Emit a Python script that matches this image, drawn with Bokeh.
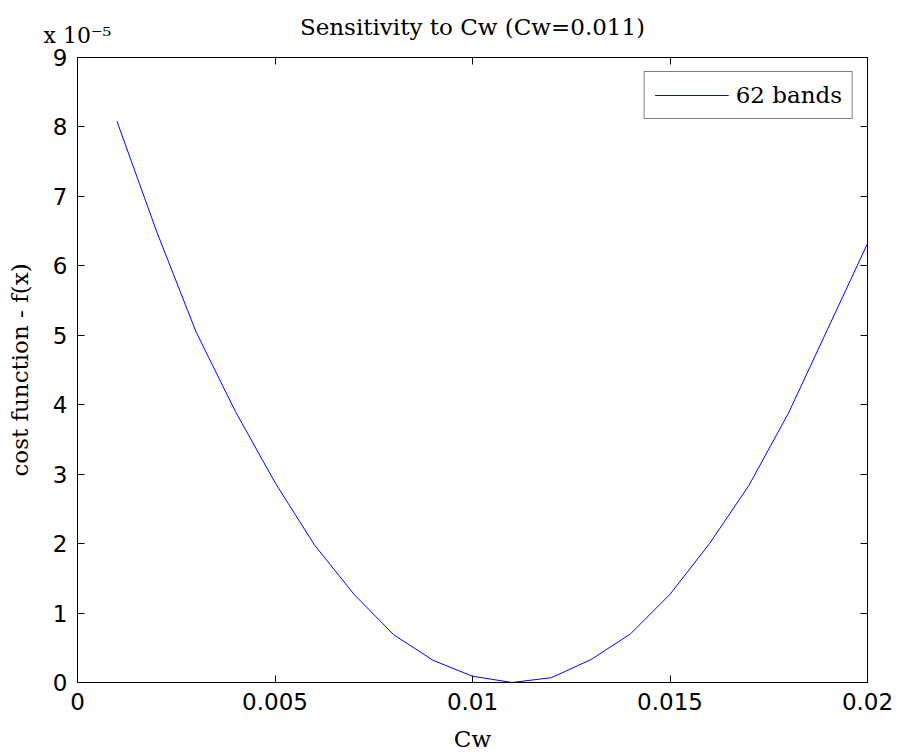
from bokeh.plotting import figure
from bokeh.models import LinearAxis, Legend, LegendItem, FixedTicker
from bokeh.embed import file_html
from bokeh.resources import INLINE

# Data (cost function in units of 1e-5)
cw = [0.001, 0.002, 0.003, 0.004, 0.005, 0.006, 0.007, 0.008, 0.009, 0.010,
      0.011, 0.012, 0.013, 0.014, 0.015, 0.016, 0.017, 0.018, 0.019, 0.020]
cost_e5 = [8.08, 6.50, 5.05, 3.90, 2.88, 1.98, 1.27, 0.69, 0.32, 0.09,
           0.00, 0.07, 0.33, 0.70, 1.27, 2.00, 2.84, 3.88, 5.10, 6.32]
x_ticks = [0, 0.005, 0.01, 0.015, 0.02]
x_tick_labels = ["0", "0.005", "0.01", "0.015", "0.02"]
y_ticks = [0, 1, 2, 3, 4, 5, 6, 7, 8, 9]
y_multiplier = "x 10\u207b\u2075"
title_text = "Sensitivity to Cw (Cw=0.011)"
series_name = "62 bands"

SERIF = "DejaVu Serif"
SANS = "DejaVu Sans"

p = figure(width=897, height=754, x_range=(0, 0.02), y_range=(0, 9),
           output_backend="svg", toolbar_location=None,
           min_border_left=77, min_border_right=30, min_border_top=57, min_border_bottom=72,
           x_axis_type=None, y_axis_type=None)
p.xgrid.visible = False
p.ygrid.visible = False
p.outline_line_color = "black"
p.outline_line_width = 1
p.background_fill_color = "white"
p.border_fill_color = "white"

def style_axis(ax):
    ax.axis_line_color = "black"
    ax.axis_line_width = 1
    ax.major_tick_line_color = "black"
    ax.major_tick_in = 7
    ax.major_tick_out = 0
    ax.minor_tick_line_color = None
    ax.major_label_text_font = SANS
    ax.major_label_text_font_size = "23px"
    ax.major_label_text_color = "black"

xb = LinearAxis(ticker=FixedTicker(ticks=x_ticks))
xb.major_label_overrides = {t: l for t, l in zip(x_ticks, x_tick_labels)}
style_axis(xb)
xb.major_label_standoff = 10
xb.axis_label = "Cw"
xb.axis_label_text_font = SERIF
xb.axis_label_text_font_size = "23px"
xb.axis_label_text_font_style = "normal"
xb.axis_label_text_color = "black"
xb.axis_label_standoff = 13
p.add_layout(xb, "below")

yl = LinearAxis(ticker=FixedTicker(ticks=y_ticks))
style_axis(yl)
yl.major_label_standoff = 10
yl.axis_label = "cost function - f(x)"
yl.axis_label_text_font = SERIF
yl.axis_label_text_font_size = "23px"
yl.axis_label_text_font_style = "normal"
yl.axis_label_text_color = "black"
yl.axis_label_standoff = 17
p.add_layout(yl, "left")

# top axis: inward ticks, the y-scale multiplier at x=0, and the chart title
xt = LinearAxis(ticker=FixedTicker(ticks=x_ticks))
style_axis(xt)
xt.major_label_overrides = {t: (y_multiplier if t == 0 else "") for t in x_ticks}
xt.major_label_text_font = SERIF
xt.major_label_text_font_size = "22px"
xt.major_label_text_align = "left"
xt.major_label_standoff = 10
xt.axis_label = title_text
xt.axis_label_text_font = SERIF
xt.axis_label_text_font_size = "23px"
xt.axis_label_text_font_style = "normal"
xt.axis_label_text_color = "black"
xt.axis_label_standoff = -20
p.add_layout(xt, "above")

yr = LinearAxis(ticker=FixedTicker(ticks=y_ticks))
style_axis(yr)
yr.major_label_overrides = {t: "" for t in y_ticks}
yr.major_label_standoff = 0
p.add_layout(yr, "right")

r = p.line(cw, cost_e5, line_color="#0000ff", line_width=1)

legend = Legend(items=[LegendItem(label=series_name, renderers=[r])],
                location="top_right")
legend.border_line_color = "black"
legend.border_line_width = 1
legend.background_fill_alpha = 1
legend.label_text_font = SERIF
legend.label_text_font_size = "23px"
legend.label_text_color = "black"
legend.glyph_width = 74
legend.glyph_height = 22
legend.label_standoff = 7
legend.padding = 10
legend.margin = 14
legend.spacing = 0
p.add_layout(legend)

open("out.html", "w").write(file_html(p, INLINE))
